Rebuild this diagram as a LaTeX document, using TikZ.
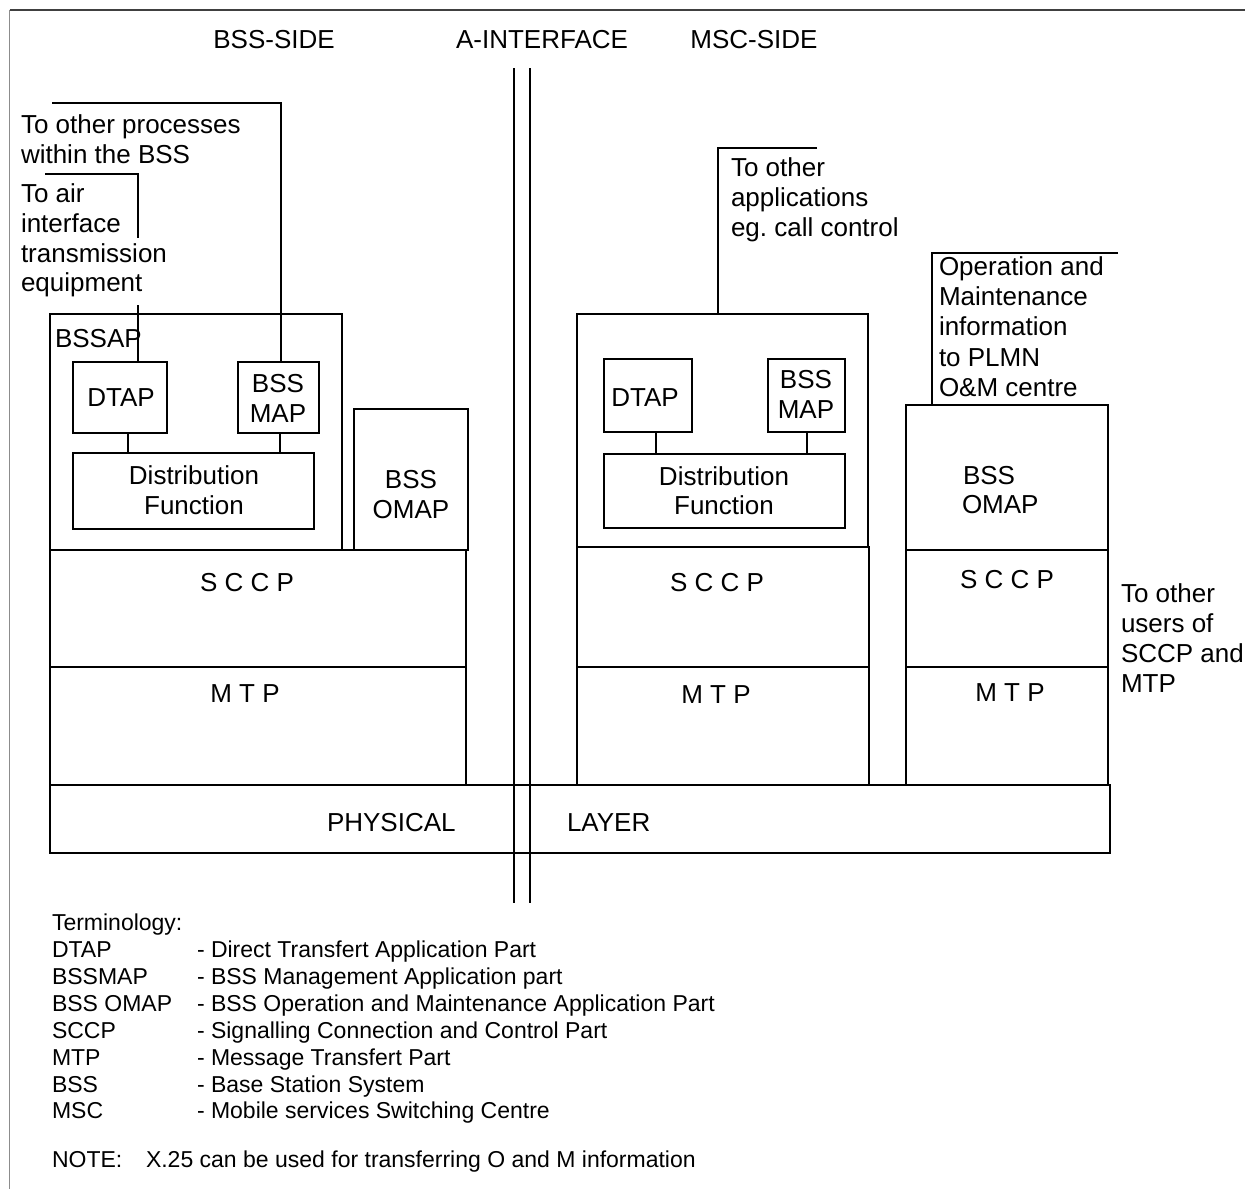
\documentclass[tikz,border=0pt]{standalone}
\usepackage{fontspec}
\setmainfont{Liberation Sans}
\usetikzlibrary{calc}
\frenchspacing
\newcommand\fmain{\fontsize{26}{30}\selectfont}
\newcommand\fleg{\fontsize{23}{27}\selectfont}
\tikzset{
  ln/.style={line width=1.7pt},
  bx/.style={draw, line width=1.7pt, inner sep=0pt, outer sep=0pt, anchor=north west},
  tx/.style={inner sep=0pt, outer sep=0pt, font=\fmain},
  lg/.style={inner sep=0pt, outer sep=0pt, font=\fleg, anchor=base west},
}
\begin{document}
\begin{tikzpicture}[x=1pt,y=-1pt]
\useasboundingbox (0,0) rectangle (1245,1189);
% frame
\draw[black!75, line width=1.4pt] (9.5,10) -- (1245,10);
\draw[black!45, line width=1.4pt] (9.5,10) -- (9.5,1189);
% headers
\node[tx,anchor=base] (hbss) at (274,48) {BSS-SIDE};
\node[tx,anchor=base] (hai) at (542,48) {A-INTERFACE};
\node[tx,anchor=base] (hmsc) at (754,48) {MSC-SIDE};
% A interface double line
\coordinate (ai1t) at (514,68); \coordinate (ai1b) at (514,903);
\coordinate (ai2t) at (530,68); \coordinate (ai2b) at (530,903);
% BSS side boxes
\node[bx, minimum width=292pt, minimum height=236pt] (bssap) at (50,314) {};
\node[bx, minimum width=94pt, minimum height=71pt] (bdtap) at (73,362) {};
\node[bx, minimum width=81pt, minimum height=71pt] (bmap) at (238,362) {};
\node[bx, minimum width=241pt, minimum height=76pt] (bdf) at (73,453) {};
\node[bx, minimum width=114pt, minimum height=141pt] (bomap) at (354,409) {};
\node[bx, minimum width=416pt, minimum height=117pt] (bsccp) at (50,550) {};
\node[bx, minimum width=416pt, minimum height=118pt] (bmtp) at (50,667) {};
\node[bx, minimum width=1060pt, minimum height=68pt] (phys) at (50,785) {};
% MSC side boxes
\node[bx, minimum width=291pt, minimum height=233pt] (mapp) at (577,314) {};
\node[bx, minimum width=88pt, minimum height=73pt] (mdtap) at (604,359) {};
\node[bx, minimum width=77pt, minimum height=73pt] (mmap) at (768,359) {};
\node[bx, minimum width=241pt, minimum height=74pt] (mdf) at (604,454) {};
\node[bx, minimum width=292pt, minimum height=120pt] (msccp) at (577,547) {};
\node[bx, minimum width=292pt, minimum height=118pt] (mmtp) at (577,667) {};
\node[bx, minimum width=202pt, minimum height=145pt] (oomap) at (906,405) {};
\node[bx, minimum width=202pt, minimum height=117pt] (osccp) at (906,550) {};
\node[bx, minimum width=202pt, minimum height=118pt] (omtp) at (906,667) {};
% A interface lines drawn over
\draw[ln] (ai1t) -- (ai1b);
\draw[ln] (ai2t) -- (ai2b);
% connector coordinates
\coordinate (air1) at (45,174);
\coordinate (air2) at (138,174);
\coordinate (air3) at (138,238);
\coordinate (air4) at (138,305);
\coordinate (pr1) at (52,103);
\coordinate (pr2) at (281,103);
\coordinate (cb1) at (128,0);
\coordinate (cb2) at (280,0);
\coordinate (cm1) at (656,0);
\coordinate (cm2) at (807,0);
\coordinate (ap1) at (817,148);
\coordinate (ap2) at (718,148);
\coordinate (om1) at (1118,253);
\coordinate (om2) at (932,253);
% connectors
\draw[ln] (air1) -- (air2) -- (air3);
\draw[ln] (air4) -- (bdtap.north -| air4);
\draw[ln] (pr1) -- (pr2) -- (bmap.north -| pr2);
\draw[ln] (cb1 |- bdtap.south) -- (cb1 |- bdf.north);
\draw[ln] (cb2 |- bmap.south) -- (cb2 |- bdf.north);
\draw[ln] (cm1 |- mdtap.south) -- (cm1 |- mdf.north);
\draw[ln] (cm2 |- mmap.south) -- (cm2 |- mdf.north);
\draw[ln] (ap1) -- (ap2) -- (mapp.north -| ap2);
\draw[ln] (om1) -- (om2) -- (oomap.north -| om2);
% BSS side texts
\node[tx,anchor=base west] (t1) at (21,133) {To other processes};
\node[tx,anchor=base west] (t2) at (21,163) {within the BSS};
\node[tx,anchor=base west] (t3) at (21,202) {To air};
\node[tx,anchor=base west] (t4) at (21,232) {interface};
\node[tx,anchor=base west] (t5) at (21,262) {transmission};
\node[tx,anchor=base west] (t6) at (21,291) {equipment};
\node[tx,anchor=base west] (lbssap) at (55,347) {BSSAP};
\node[tx,anchor=base] (lbdtap) at (121,406) {DTAP};
\node[tx,anchor=base] (lbmap1) at (278,392) {BSS};
\node[tx,anchor=base] (lbmap2) at (278,422) {MAP};
\node[tx,anchor=base] (lbdf1) at (194,484) {Distribution};
\node[tx,anchor=base] (lbdf2) at (194,514) {Function};
\node[tx,anchor=base] (lbom1) at (411,488) {BSS};
\node[tx,anchor=base] (lbom2) at (411,518) {OMAP};
\node[tx,anchor=base] (lbsccp) at (247,591) {S C C P};
\node[tx,anchor=base] (lbmtp) at (245,702) {M T P};
\node[tx,anchor=base west] (lphys) at (327,831) {PHYSICAL};
\node[tx,anchor=base west] (llayer) at (567,831) {LAYER};
% MSC side texts
\node[tx,anchor=base west] (m1) at (731,176) {To other};
\node[tx,anchor=base west] (m2) at (731,206) {applications};
\node[tx,anchor=base west] (m3) at (731,236) {eg. call control};
\node[tx,anchor=base] (lmdtap) at (645,406) {DTAP};
\node[tx,anchor=base] (lmmap1) at (806,388) {BSS};
\node[tx,anchor=base] (lmmap2) at (806,418) {MAP};
\node[tx,anchor=base] (lmdf1) at (724,485) {Distribution};
\node[tx,anchor=base] (lmdf2) at (724,514) {Function};
\node[tx,anchor=base] (lmsccp) at (717,591) {S C C P};
\node[tx,anchor=base] (lmmtp) at (716,703) {M T P};
\node[tx,anchor=base west] (o1) at (939,275) {Operation and};
\node[tx,anchor=base west] (o2) at (939,305) {Maintenance};
\node[tx,anchor=base west] (o3) at (939,335) {information};
\node[tx,anchor=base west] (o4) at (939,366) {to PLMN};
\node[tx,anchor=base west] (o5) at (939,396) {O\&M centre};
\node[tx,anchor=base west] (lom1) at (963,484) {BSS};
\node[tx,anchor=base west] (lom2) at (962,513) {OMAP};
\node[tx,anchor=base] (losccp) at (1007,588) {S C C P};
\node[tx,anchor=base] (lomtp) at (1010,701) {M T P};
\node[tx,anchor=base west] (u1) at (1121,602) {To other};
\node[tx,anchor=base west] (u2) at (1121,632) {users of};
\node[tx,anchor=base west] (u3) at (1121,662) {SCCP and};
\node[tx,anchor=base west] (u4) at (1121,692) {MTP};
% legend
\node[lg] (g0) at (52,930) {Terminology:};
\node[lg] (g1a) at (52,957) {DTAP};
\node[lg] (g1b) at (197,957) {- Direct Transfert Application Part};
\node[lg] (g2a) at (52,984) {BSSMAP};
\node[lg] (g2b) at (197,984) {- BSS Management Application part};
\node[lg] (g3a) at (52,1011) {BSS OMAP};
\node[lg] (g3b) at (197,1011) {- BSS Operation and Maintenance Application Part};
\node[lg] (g4a) at (52,1038) {SCCP};
\node[lg] (g4b) at (197,1038) {- Signalling Connection and Control Part};
\node[lg] (g5a) at (52,1065) {MTP};
\node[lg] (g5b) at (197,1065) {- Message Transfert Part};
\node[lg] (g6a) at (52,1092) {BSS};
\node[lg] (g6b) at (197,1092) {- Base Station System};
\node[lg] (g7a) at (52,1118) {MSC};
\node[lg] (g7b) at (197,1118) {- Mobile services Switching Centre};
\node[lg] (n1) at (52,1167) {NOTE:};
\node[lg] (n2) at (146,1167) {X.25 can be used for transferring O and M information};
\end{tikzpicture}
\end{document}
